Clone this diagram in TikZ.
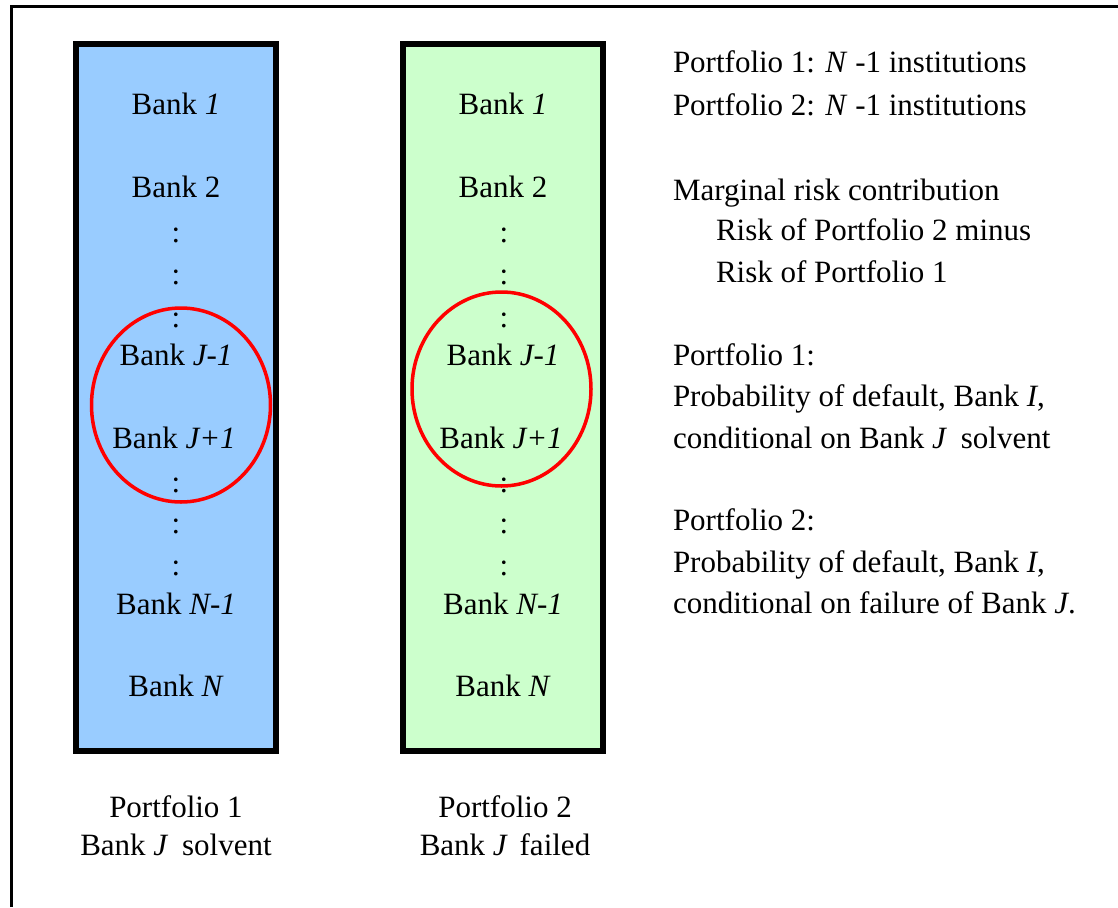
\documentclass[tikz,border=0pt]{standalone}
\usepackage{fontspec}
\setmainfont{Liberation Serif}
\usetikzlibrary{shapes.geometric}
\definecolor{boxblue}{HTML}{99CCFF}
\definecolor{boxgreen}{HTML}{CCFFCC}
\begin{document}
\begin{tikzpicture}[x=1pt,y=-1pt,
  every node/.style={font=\fontsize{31}{37}\selectfont, inner sep=0pt, outer sep=0pt},
  bankbox/.style={draw=black, line width=5.5pt, rectangle, minimum width=200pt, minimum height=707pt},
  lbl/.style={anchor=base},
  rtxt/.style={anchor=base west},
  ring/.style={draw=red, line width=3.5pt, ellipse, minimum width=179pt, minimum height=194pt}]
\useasboundingbox (0,0) rectangle (1118,907);
% outer frame (left and top edges)
\coordinate (fb) at (11,907);
\coordinate (ftl) at (11,7);
\coordinate (fr) at (1118,7);
\draw[line width=3pt] (fb) -- (ftl) -- (fr);
% boxes
\node[bankbox, fill=boxblue] (p1) at (175.75,397.5) {};
\node[bankbox, fill=boxgreen] (p2) at (503,397.5) {};
% blue column
\node[lbl] (a1) at (176,114) {Bank \textit{1}};
\node[lbl] (a2) at (176,197) {Bank 2};
\node[lbl] (a3) at (176,242) {:};
\node[lbl] (a4) at (176,284) {:};
\node[lbl] (a5) at (176,327) {:};
\node[lbl] (a6) at (176,365) {Bank \textit{J-1}};
\node[lbl] (a7) at (174,448) {Bank \textit{J+1}};
\node[lbl] (a8) at (176,492) {:};
\node[lbl] (a9) at (176,533) {:};
\node[lbl] (a10) at (176,575) {:};
\node[lbl] (a11) at (176,614) {Bank \textit{N-1}};
\node[lbl] (a12) at (176,696) {Bank \textit{N}};
% green column
\node[lbl] (b1) at (503,114) {Bank \textit{1}};
\node[lbl] (b2) at (503,197) {Bank 2};
\node[lbl] (b3) at (504,242) {:};
\node[lbl] (b4) at (504,284) {:};
\node[lbl] (b5) at (504,327) {:};
\node[lbl] (b6) at (503,365) {Bank \textit{J-1}};
\node[lbl] (b7) at (501,448) {Bank \textit{J+1}};
\node[lbl] (b8) at (504,492) {:};
\node[lbl] (b9) at (504,533) {:};
\node[lbl] (b10) at (504,575) {:};
\node[lbl] (b11) at (503,614) {Bank \textit{N-1}};
\node[lbl] (b12) at (503,696) {Bank \textit{N}};
% red ellipses
\node[ring] (e1) at (181,405) {};
\node[ring] (e2) at (501.5,389) {};
% bottom labels
\node[lbl] (c1) at (176,817) {Portfolio 1};
\node[lbl] (c2) at (176,855) {Bank \textit{J}\hspace{6pt} solvent};
\node[lbl] (d1) at (505,817) {Portfolio 2};
\node[lbl] (d2) at (505,855) {Bank \textit{J}\hspace{4pt} failed};
% right text
\node[rtxt] (r1) at (673,73) {Portfolio 1: \textit{N} -1 institutions};
\node[rtxt] (r2) at (673,115) {Portfolio 2: \textit{N} -1 institutions};
\node[rtxt] (r3) at (673,200) {Marginal risk contribution};
\node[rtxt] (r4) at (716,240) {Risk of Portfolio 2 minus};
\node[rtxt] (r5) at (716,282) {Risk of Portfolio 1};
\node[rtxt] (r6) at (673,365) {Portfolio 1:};
\node[rtxt] (r7) at (673,406) {Probability of default, Bank \textit{I},};
\node[rtxt] (r8) at (673,448) {conditional on Bank \textit{J}\hspace{6pt} solvent};
\node[rtxt] (r9) at (673,530) {Portfolio 2:};
\node[rtxt] (r10) at (673,572) {Probability of default, Bank \textit{I},};
\node[rtxt] (r11) at (673,613) {conditional on failure of Bank \textit{J}.};
\end{tikzpicture}
\end{document}
